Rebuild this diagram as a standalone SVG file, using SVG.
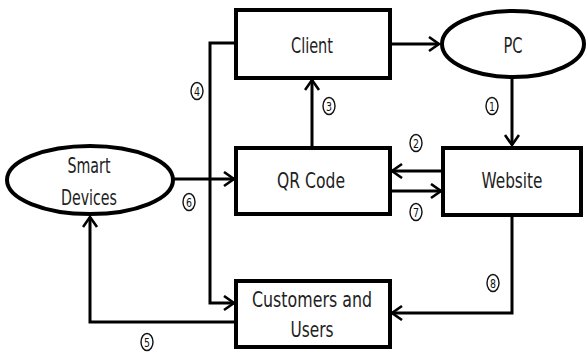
<svg xmlns="http://www.w3.org/2000/svg" width="586" height="356" viewBox="0 0 586 356">
  <defs>
    <marker id="arrow" markerUnits="userSpaceOnUse" markerWidth="16" markerHeight="18" refX="11" refY="8" orient="auto">
      <path d="M1,1 L11,8 L1,15" fill="none" stroke="#000" stroke-width="2.6" stroke-linejoin="miter"/>
    </marker>
  </defs>
  <style>
    .box { fill: #fff; stroke: #000; stroke-width: 4; }
    .label { font-family: "DejaVu Sans", "Liberation Sans", sans-serif; font-size: 21px; fill: #222; text-anchor: middle; }
    .wire { fill: none; stroke: #000; stroke-width: 3; }
    .num circle, .num ellipse { fill: #fff; stroke: #111; stroke-width: 1.4; }
    .num text { font-family: "DejaVu Sans", "Liberation Sans", sans-serif; font-size: 12px; fill: #111; text-anchor: middle; }
  </style>
  <rect width="586" height="356" fill="#fff"/>

  <!-- connectors -->
  <g id="connectors">
    <path class="wire" d="M390,44 H439" marker-end="url(#arrow)"/>
    <path class="wire" d="M512,77 V145" marker-end="url(#arrow)"/>
    <path class="wire" d="M312,147 V80" marker-end="url(#arrow)"/>
    <path class="wire" d="M443,171 H392" marker-end="url(#arrow)"/>
    <path class="wire" d="M390,191 H441" marker-end="url(#arrow)"/>
    <path class="wire" d="M173,179 H234" marker-end="url(#arrow)"/>
    <path class="wire" d="M236,43 H210 V303 H234" marker-end="url(#arrow)"/>
    <path class="wire" d="M236,322 H90 V217" marker-end="url(#arrow)"/>
    <path class="wire" d="M512,215 V313 H392" marker-end="url(#arrow)"/>
  </g>

  <!-- step numbers -->
  <g id="steps" class="num">
    <g><ellipse cx="492" cy="106" rx="6" ry="8.5"/><text x="492" y="110.5" textLength="6" lengthAdjust="spacingAndGlyphs">1</text></g>
    <g><ellipse cx="416" cy="143" rx="6" ry="8.5"/><text x="416" y="147.5" textLength="6" lengthAdjust="spacingAndGlyphs">2</text></g>
    <g><ellipse cx="329" cy="106" rx="6" ry="8.5"/><text x="329" y="110.5" textLength="6" lengthAdjust="spacingAndGlyphs">3</text></g>
    <g><ellipse cx="197" cy="91" rx="6" ry="8.5"/><text x="197" y="95.5" textLength="6" lengthAdjust="spacingAndGlyphs">4</text></g>
    <g><ellipse cx="147" cy="342" rx="6" ry="8.5"/><text x="147" y="346.5" textLength="6" lengthAdjust="spacingAndGlyphs">5</text></g>
    <g><ellipse cx="189" cy="202" rx="6" ry="8.5"/><text x="189" y="206.5" textLength="6" lengthAdjust="spacingAndGlyphs">6</text></g>
    <g><ellipse cx="416" cy="212" rx="6" ry="8.5"/><text x="416" y="216.5" textLength="6" lengthAdjust="spacingAndGlyphs">7</text></g>
    <g><ellipse cx="493" cy="283" rx="6" ry="8.5"/><text x="493" y="287.5" textLength="6" lengthAdjust="spacingAndGlyphs">8</text></g>
  </g>

  <!-- nodes -->
  <g id="client">
    <rect class="box" x="236" y="10" width="154" height="68"/>
    <text class="label" x="312" y="53" textLength="42" lengthAdjust="spacingAndGlyphs">Client</text>
  </g>
  <g id="pc">
    <ellipse class="box" cx="513" cy="44" rx="71" ry="33"/>
    <text class="label" x="513" y="53" textLength="19" lengthAdjust="spacingAndGlyphs">PC</text>
  </g>
  <g id="qr-code">
    <rect class="box" x="236" y="148" width="154" height="66"/>
    <text class="label" x="311" y="188" textLength="68" lengthAdjust="spacingAndGlyphs">QR Code</text>
  </g>
  <g id="website">
    <rect class="box" x="443" y="148" width="138" height="67"/>
    <text class="label" x="512" y="188" textLength="61" lengthAdjust="spacingAndGlyphs">Website</text>
  </g>
  <g id="smart-devices">
    <ellipse class="box" cx="90" cy="180" rx="83" ry="34"/>
    <text class="label" x="89" y="173" textLength="43" lengthAdjust="spacingAndGlyphs">Smart</text>
    <text class="label" x="89" y="205" textLength="56" lengthAdjust="spacingAndGlyphs">Devices</text>
  </g>
  <g id="customers">
    <rect class="box" x="236" y="281" width="154" height="66"/>
    <text class="label" x="312" y="307" textLength="120" lengthAdjust="spacingAndGlyphs">Customers and</text>
    <text class="label" x="312" y="337" textLength="43" lengthAdjust="spacingAndGlyphs">Users</text>
  </g>
</svg>
